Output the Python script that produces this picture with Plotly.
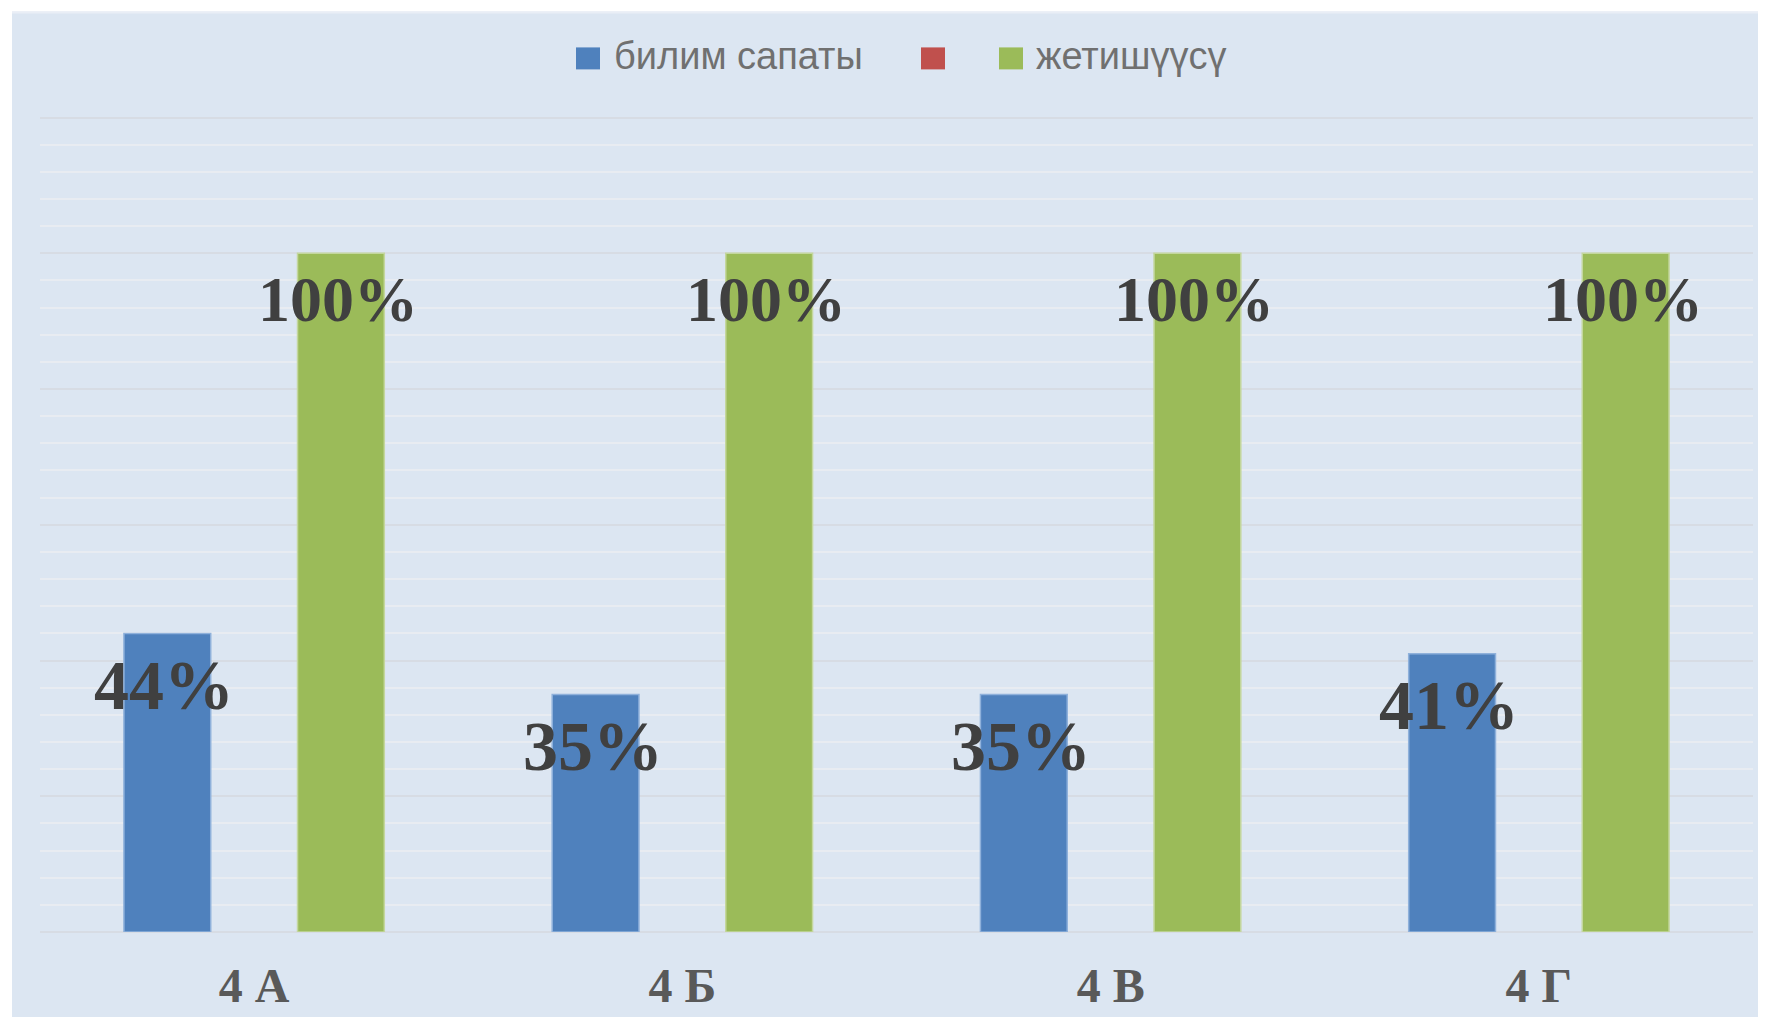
import plotly.graph_objects as go

# ---- data ----
categories = ["4 А", "4 Б", "4 В", "4 Г"]
series_names = ["билим сапаты", "", "жетишүүсү"]
quality = [0.44, 0.35, 0.35, 0.41]          # билим сапаты
red_series = [0, 0, 0, 0]                    # unnamed (empty) series
achievement = [1.00, 1.00, 1.00, 1.00]      # жетишүүсү
y_max = 1.22                                 # axis top (grid up to 120%)

# ---- geometry / style (page pixel coords; page body has an 8px margin) ----
OFF = 8
PAGE_W, PAGE_H = 1766, 1017
W, H = PAGE_W - OFF, PAGE_H - OFF
PX_PER_UNIT = 679
PLOT_L, PLOT_R, PLOT_B = 40, 1753, 932
PLOT_T = PLOT_B - y_max * PX_PER_UNIT
ML, MR, MT, MB = PLOT_L - OFF, PAGE_W - PLOT_R, PLOT_T - OFF, PAGE_H - PLOT_B
PW, PH = W - ML - MR, H - MT - MB
BARGAP = 0.392
BG = "#DCE6F2"
BLUE, BLUE_EDGE = "#4F81BD", "#8FB1DB"
RED = "#C0504D"
GREEN, GREEN_EDGE = "#9BBB59", "#C4D79E"


def px_x(x):
    return (x - PLOT_L) / PW


def px_y(y):
    return 1 - (y - PLOT_T) / PH


fig = go.Figure()
fig.add_trace(go.Bar(x=categories, y=quality, name=series_names[0],
                     marker=dict(color=BLUE, line=dict(color=BLUE_EDGE, width=1.5))))
fig.add_trace(go.Bar(x=categories, y=red_series, name=series_names[1],
                     marker=dict(color=RED, line=dict(width=0))))
fig.add_trace(go.Bar(x=categories, y=achievement, name=series_names[2],
                     marker=dict(color=GREEN, line=dict(color=GREEN_EDGE, width=1.5))))

# data labels
bar_w = PW / len(categories) * (1 - BARGAP) / 3
annotations = []
for vals, shift, yshift, size in ((quality, -bar_w - 3, -52, 70), (achievement, bar_w - 3, -46, 64)):
    for c, v in zip(categories, vals):
        annotations.append(dict(
            x=c, y=v, xref="x", yref="y", xshift=shift, yshift=yshift,
            text=f"{round(v * 100)}%", showarrow=False, yanchor="middle", xanchor="center",
            font=dict(family="Liberation Serif", size=size, color="#404040", weight="bold")))

# manual legend
legend_items = [
    (series_names[0], BLUE, 576, 612),
    (series_names[1], RED, 921, None),
    (series_names[2], GREEN, 999, 1034),
]
shapes = [
    dict(type="rect", xref="paper", yref="paper", x0=px_x(0), x1=px_x(PAGE_W), y0=px_y(0), y1=px_y(11),
         fillcolor="#FFFFFF", line=dict(width=0), layer="below"),
    dict(type="rect", xref="paper", yref="paper", x0=px_x(0), x1=px_x(PAGE_W), y0=px_y(11), y1=px_y(13),
         fillcolor="#E9EEF6", line=dict(width=0), layer="below"),
    dict(type="rect", xref="paper", yref="paper", x0=px_x(0), x1=px_x(12), y0=px_y(0), y1=px_y(PAGE_H),
         fillcolor="#FFFFFF", line=dict(width=0), layer="below"),
]
for name, color, sx, tx in legend_items:
    shapes.append(dict(type="rect", xref="paper", yref="paper",
                       x0=px_x(sx), x1=px_x(sx + 24), y0=px_y(69), y1=px_y(47),
                       fillcolor=color, line=dict(width=0)))
    if name:
        annotations.append(dict(x=px_x(tx), y=px_y(56), xref="paper", yref="paper",
                                text=name, showarrow=False, xanchor="left", yanchor="middle",
                                font=dict(family="Liberation Sans", size=38, color="#707070")))

fig.update_layout(
    width=W, height=H,
    margin=dict(l=ML, r=MR, t=MT, b=MB, pad=0, autoexpand=False),
    paper_bgcolor=BG, plot_bgcolor="rgba(0,0,0,0)",
    barmode="group", bargap=BARGAP, bargroupgap=0,
    showlegend=False,
    annotations=annotations, shapes=shapes,
    xaxis=dict(type="category", showgrid=False, showline=False, ticks="", ticklabelstandoff=21,
               automargin=False,
               tickfont=dict(family="Liberation Serif", size=48, color="#595959", weight="bold")),
    yaxis=dict(range=[0, y_max], dtick=0.2, showticklabels=False, ticks="", automargin=False,
               showgrid=True, gridcolor="#D7DCE4", gridwidth=2,
               zeroline=True, zerolinecolor="#D7DCE4", zerolinewidth=2,
               minor=dict(dtick=0.04, showgrid=True, gridcolor="#E8ECF2", gridwidth=2)),
)

fig.write_html("out.html")
